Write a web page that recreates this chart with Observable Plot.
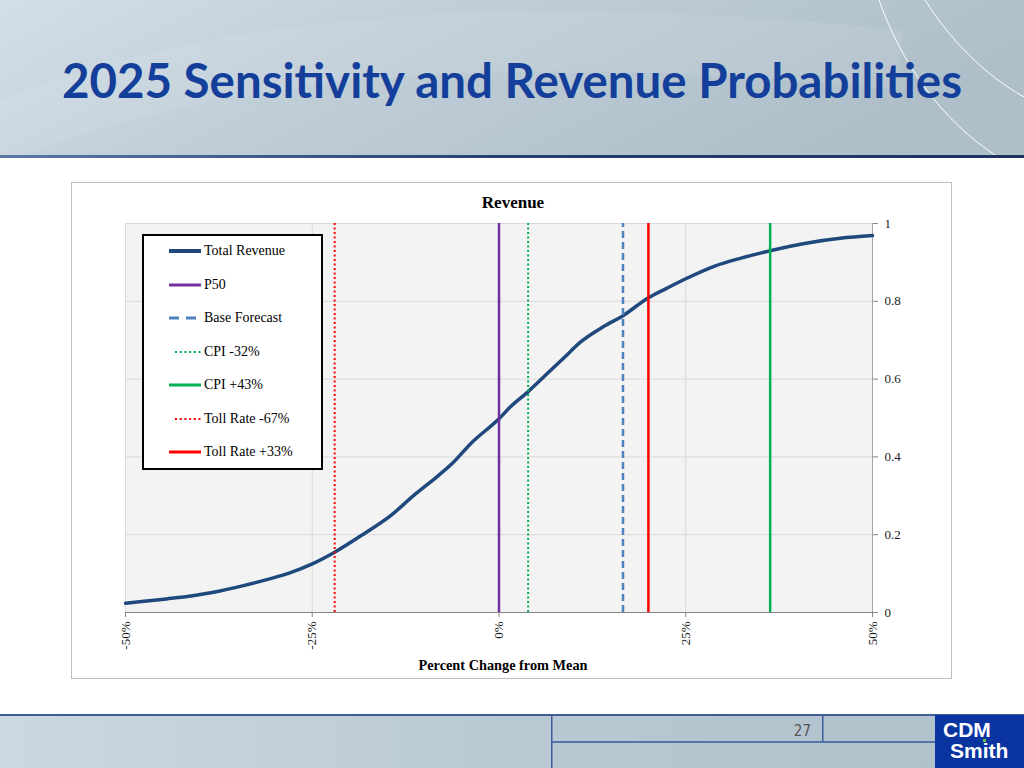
<!DOCTYPE html>
<html><head><meta charset="utf-8">
<script src="https://cdn.jsdelivr.net/npm/d3@7"></script>
<script src="https://cdn.jsdelivr.net/npm/@observablehq/plot@0.6"></script>
<style>
html,body{margin:0;padding:0;background:#fff;}
#slide{position:relative;width:1024px;height:768px;overflow:hidden;background:#fff;font-family:"Liberation Serif","Times New Roman",serif;}
.abs{position:absolute;}
#frame{left:71px;top:182px;width:881px;height:497px;border:1px solid #bfbfbf;box-sizing:border-box;background:#fff;}
#chartTitle{left:513px;top:193px;transform:translateX(-50%);font-weight:bold;font-size:17px;line-height:20px;color:#000;white-space:nowrap;}
#xLabel{left:503px;top:656px;transform:translateX(-50%);font-weight:bold;font-size:14.3px;line-height:18px;color:#000;white-space:nowrap;}
#legend{left:142px;top:234px;width:181px;height:236px;border:2px solid #000;box-sizing:border-box;background:#fff;}
.lrow{position:absolute;left:0;height:20px;width:100%;}
.lrow svg{position:absolute;left:25px;top:5px;}
.lrow span{position:absolute;left:60px;top:0;line-height:20px;font-size:14px;color:#000;white-space:nowrap;}
#plotwrap svg{position:absolute;left:0;top:0;}
</style></head>
<body>
<div id="slide">
  <svg class="abs" style="left:0;top:0" width="1024" height="160">
    <defs>
      <linearGradient id="hg" x1="0" y1="0" x2="1" y2="0.3">
        <stop offset="0" stop-color="#d2dfe8"/>
        <stop offset="0.45" stop-color="#bfcdd7"/>
        <stop offset="1" stop-color="#aebfca"/>
      </linearGradient>
      <linearGradient id="hl" x1="0" y1="0" x2="1" y2="0">
        <stop offset="0" stop-color="#5a77a6"/>
        <stop offset="0.5" stop-color="#243f74"/>
        <stop offset="1" stop-color="#1e3260"/>
      </linearGradient>
    </defs>
    <rect x="0" y="0" width="1024" height="156" fill="url(#hg)"/>
    <path d="M-40,150 C200,40 500,20 900,60" fill="none" stroke="#ffffff" stroke-opacity="0.08" stroke-width="60"/>
    <path d="M879,0 C900,60 940,120 998,157" fill="none" stroke="#ffffff" stroke-width="1"/>
    <path d="M925,0 C950,40 985,75 1024,97" fill="none" stroke="#ffffff" stroke-width="1"/>
    <rect x="0" y="155" width="1024" height="3" fill="url(#hl)"/>
    <text x="62" y="98" textLength="900" lengthAdjust="spacingAndGlyphs" font-family="Lato, 'Open Sans', sans-serif" font-weight="bold" font-size="47" fill="#133f9b">2025 Sensitivity and Revenue Probabilities</text>
  </svg>
  <svg class="abs" style="left:0;top:713px" width="1024" height="55">
    <defs>
      <linearGradient id="fg" x1="0" y1="0" x2="1" y2="0">
        <stop offset="0" stop-color="#cbd8e0"/>
        <stop offset="0.5" stop-color="#b9c9d3"/>
        <stop offset="1" stop-color="#afc0cb"/>
      </linearGradient>
    </defs>
    <rect x="0" y="2" width="1024" height="53" fill="url(#fg)"/>
    <rect x="0" y="1" width="1024" height="2" fill="#3d5c99"/>
    <rect x="551" y="2" width="1.5" height="53" fill="#3d5c99"/>
    <rect x="552" y="28" width="383" height="2" fill="#5473ab"/>
    <rect x="822" y="2" width="1.5" height="27" fill="#3d5c99"/>
    <text x="811" y="23" text-anchor="end" font-family="'Liberation Sans Narrow', 'DejaVu Sans Condensed', sans-serif" font-size="15" fill="#555">27</text>
    <rect x="935" y="2" width="89" height="53" fill="#0a34a0"/>
    <text x="943" y="24" font-family="'Liberation Sans Narrow', sans-serif" font-weight="bold" font-size="21" fill="#fff">CDM</text>
    <text x="950" y="45" font-family="'Liberation Sans Narrow', sans-serif" font-weight="bold" font-size="21" fill="#fff">Smith</text>
    <rect x="983" y="26" width="3" height="3" fill="#6cc04a"/>
  </svg>
  <div id="frame" class="abs"></div>
  <div id="plotwrap"></div>
  <div id="chartTitle" class="abs">Revenue</div>
  <div id="xLabel" class="abs">Percent Change from Mean</div>
  <div id="legend" class="abs"></div>
</div>
<script>
// ---- data ----
const curvePct  = [-50, -47.5, -44.5, -41, -38.2, -34.2, -30.6, -28, -25, -22, -18.1, -14.5, -11.4, -9.2, -6.1, -3.8, 0, 1.5, 3.8, 6.5, 8.7, 10.9, 14, 16.6, 19.9, 22.5, 25, 28.8, 32.4, 36.3, 41.3, 45.7, 50];
const curveProb = [0.024, 0.029, 0.035, 0.043, 0.052, 0.069, 0.087, 0.102, 0.125, 0.155, 0.202, 0.249, 0.301, 0.335, 0.386, 0.434, 0.498, 0.528, 0.566, 0.615, 0.655, 0.695, 0.735, 0.763, 0.808, 0.834, 0.858, 0.890, 0.911, 0.930, 0.950, 0.962, 0.969];

const markerNames = ["P50", "Base Forecast", "CPI -32%", "CPI +43%", "Toll Rate -67%", "Toll Rate +33%"];
const markerPct   = [0, 16.6, 3.9, 36.3, -22.0, 20.0];

const xTicks = [-50, -25, 0, 25, 50];
const xTickLabels = ["-50%", "-25%", "0%", "25%", "50%"];
const yTicks = [0, 0.2, 0.4, 0.6, 0.8, 1];
const yTickLabels = ["0", "0.2", "0.4", "0.6", "0.8", "1"];

const legendNames = ["Total Revenue", "P50", "Base Forecast", "CPI -32%", "CPI +43%", "Toll Rate -67%", "Toll Rate +33%"];

// ---- styles ----
const style = {
  "Total Revenue":  {stroke: "#1f497d", width: 3.5, dash: null, lw: 4},
  "P50":            {stroke: "#7030a0", width: 2.5, dash: null, lw: 3},
  "Base Forecast":  {stroke: "#4f81bd", width: 2.5, dash: "7,4", ldash: "10,7", lw: 3},
  "CPI -32%":       {stroke: "#00b050", width: 2, dash: "2,2.5", ldash: "2,2.7", lw: 2, lx: 6},
  "CPI +43%":       {stroke: "#00b050", width: 2.5, dash: null, lw: 3},
  "Toll Rate -67%": {stroke: "#ff0000", width: 2, dash: "2,2.5", ldash: "2,2.7", lw: 2, lx: 6},
  "Toll Rate +33%": {stroke: "#ff0000", width: 2.5, dash: null, lw: 3}
};

const curve = curvePct.map((p, i) => ({pct: p, prob: curveProb[i]}));
const markers = markerNames.map((n, i) => ({name: n, pct: markerPct[i]}));

const rules = markers.map(m => Plot.ruleX([m], {
  x: "pct", y1: 0, y2: 1,
  stroke: style[m.name].stroke,
  strokeWidth: style[m.name].width,
  strokeDasharray: style[m.name].dash || undefined
}));

const chart = Plot.plot({
  width: 1024, height: 768,
  marginLeft: 125, marginRight: 152, marginTop: 223, marginBottom: 156,
  style: {background: "transparent", fontFamily: "Liberation Serif, serif", fontSize: "13px", color: "#1a1a1a", overflow: "visible"},
  x: {domain: [-50, 50]},
  y: {domain: [0, 1]},
  marks: [
    Plot.frame({fill: "#f3f3f3", stroke: null}),
    Plot.gridX(xTicks, {stroke: "#d9d9d9", strokeOpacity: 1}),
    Plot.gridY(yTicks, {stroke: "#d9d9d9", strokeOpacity: 1}),
    Plot.axisX(xTicks, {tickSize: 5, tickPadding: 4, tickRotate: -90, stroke: "#868686", fontSize: 13,
      tickFormat: d => xTickLabels[xTicks.indexOf(d)], label: null}),
    Plot.axisY(yTicks, {anchor: "right", tickSize: 5, tickPadding: 7, stroke: "#868686", fontSize: 13,
      tickFormat: d => yTickLabels[yTicks.indexOf(d)], label: null}),
    Plot.ruleY([0], {stroke: "#868686"}),
    Plot.ruleX([50], {stroke: "#a6a6a6"}),
    Plot.line(curve, {x: "pct", y: "prob", curve: "monotone-x", stroke: style["Total Revenue"].stroke, strokeWidth: style["Total Revenue"].width}),
    ...rules
  ]
});
document.getElementById("plotwrap").appendChild(chart);

// ---- legend ----
const legend = document.getElementById("legend");
legendNames.forEach((n, i) => {
  const s = style[n];
  const row = document.createElement("div");
  row.className = "lrow";
  row.style.top = (17 + i * 33.55 - 2 - 10) + "px";
  const x1 = s.lx || 0;
  row.innerHTML = `<svg width="34" height="10"><line x1="${x1}" y1="5" x2="32" y2="5" stroke="${s.stroke}" stroke-width="${s.lw}" ${s.ldash ? `stroke-dasharray="${s.ldash}"` : ""}/></svg><span>${n}</span>`;
  legend.appendChild(row);
});
</script>
</body></html>
